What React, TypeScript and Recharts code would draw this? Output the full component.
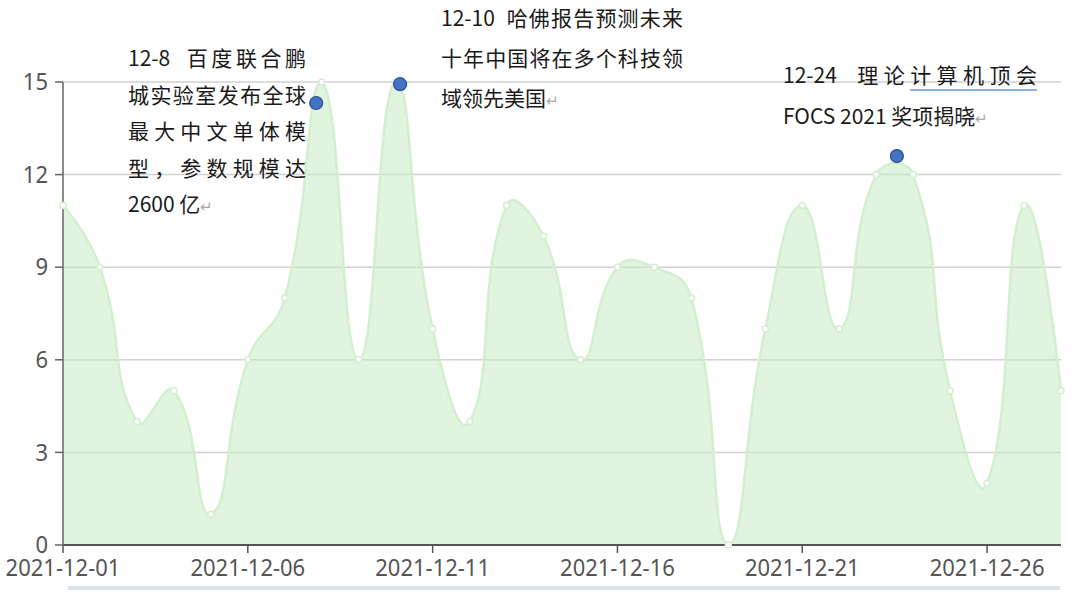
import React from 'react';
import { ComposedChart, Area, Scatter, XAxis, YAxis, CartesianGrid } from 'recharts';

const dates = [
  '2021-12-01', '2021-12-02', '2021-12-03', '2021-12-04', '2021-12-05', '2021-12-06', '2021-12-07',
  '2021-12-08', '2021-12-09', '2021-12-10', '2021-12-11', '2021-12-12', '2021-12-13', '2021-12-14',
  '2021-12-15', '2021-12-16', '2021-12-17', '2021-12-18', '2021-12-19', '2021-12-20', '2021-12-21',
  '2021-12-22', '2021-12-23', '2021-12-24', '2021-12-25', '2021-12-26', '2021-12-27', '2021-12-28',
];
const values = [11, 9, 4, 5, 1, 6, 8, 15, 6, 15, 7, 4, 11, 10, 6, 9, 9, 8, 0, 7, 11, 7, 12, 12, 5, 2, 11, 5];
const xTicks = [0, 5, 10, 15, 20, 25];
const yTicks = [0, 3, 6, 9, 12, 15];

// event markers (day index, value)
const markerDays = [6.85, 9.12, 22.56];
const markerValues = [14.32, 14.93, 12.6];

const chartData = values.map((v, i) => ({ day: i, value: v }));
const markerData = markerDays.map((d, i) => ({ day: d, value: markerValues[i] }));

// echarts-like smoothing: bezier control points from neighbours, clamped to the points' bounding box
function smoothCurve(smooth: number) {
  return function (context: any) {
    let pts: number[][] = [];
    let line = NaN;
    return {
      areaStart() { line = 0; },
      areaEnd() { line = NaN; },
      lineStart() { pts = []; },
      point(x: number, y: number) { pts.push([+x, +y]); },
      lineEnd() {
        const n = pts.length;
        if (n) {
          if (line) context.lineTo(pts[0][0], pts[0][1]);
          else context.moveTo(pts[0][0], pts[0][1]);
        }
        if (n > 1) {
          let minX = Infinity, minY = Infinity, maxX = -Infinity, maxY = -Infinity;
          pts.forEach(([x, y]) => {
            minX = Math.min(minX, x); maxX = Math.max(maxX, x);
            minY = Math.min(minY, y); maxY = Math.max(maxY, y);
          });
          const clamp = (p: number[]) => [
            Math.min(Math.max(p[0], minX), maxX),
            Math.min(Math.max(p[1], minY), maxY),
          ];
          const cpIn: number[][] = [];
          const cpOut: number[][] = [];
          for (let i = 0; i < n; i++) {
            const p = pts[i];
            if (i === 0 || i === n - 1) { cpIn.push(p); cpOut.push(p); continue; }
            const prev = pts[i - 1];
            const next = pts[i + 1];
            const vx = (next[0] - prev[0]) * smooth;
            const vy = (next[1] - prev[1]) * smooth;
            let d0 = Math.hypot(p[0] - prev[0], p[1] - prev[1]);
            let d1 = Math.hypot(p[0] - next[0], p[1] - next[1]);
            const sum = d0 + d1;
            if (sum !== 0) { d0 /= sum; d1 /= sum; }
            cpIn.push(clamp([p[0] - vx * d0, p[1] - vy * d0]));
            cpOut.push(clamp([p[0] + vx * d1, p[1] + vy * d1]));
          }
          for (let i = 1; i < n; i++) {
            const a = cpOut[i - 1];
            const b = cpIn[i];
            context.bezierCurveTo(a[0], a[1], b[0], b[1], pts[i][0], pts[i][1]);
          }
        }
        if (line || (line !== 0 && n === 1)) context.closePath();
        line = 1 - line;
      },
    };
  };
}

const curve = smoothCurve(0.5);

const XTick = (props: any) => {
  const { x, y, payload } = props;
  return (
    <text transform={`translate(${x},${y}) scale(1,1.1)`} textAnchor="middle" dy="0.72em"
      fill="#555" fontSize={22} fontFamily="'Noto Sans', sans-serif">
      {dates[payload.value]}
    </text>
  );
};

const YTick = (props: any) => {
  const { x, y, payload } = props;
  return (
    <text transform={`translate(${x},${y}) scale(1,1.1)`} textAnchor="end" dy="0.34em"
      fill="#555" fontSize={22} fontFamily="'Noto Sans', sans-serif">
      {payload.value}
    </text>
  );
};

const noteFont: React.CSSProperties = {
  position: 'absolute',
  fontFamily: "'Noto Sans CJK SC', 'Noto Sans', sans-serif",
  fontSize: 21,
  color: '#1a1a1a',
  whiteSpace: 'nowrap',
};

const Ret = () => <span style={{ color: '#aaa', fontSize: 15 }}>↵</span>;

const Line = ({ children, justify }: { children: React.ReactNode; justify?: boolean }) => (
  <div style={justify ? { textAlign: 'justify', textAlignLast: 'justify' } : undefined}>{children}</div>
);

export default function App() {
  return (
    <div style={{ position: 'absolute', left: 0, top: 0, width: 1080, height: 601, background: '#fff', overflow: 'hidden' }}>
      <ComposedChart width={1080} height={601} data={chartData} margin={{ top: 82, right: 19, bottom: 0, left: 0 }}>
        <CartesianGrid vertical={false} stroke="#d2d2d2" strokeWidth={1.5} />
        <XAxis dataKey="day" type="number" domain={[0, 27]} ticks={xTicks} height={56}
          axisLine={{ stroke: '#555', strokeWidth: 2 }} tickLine={{ stroke: '#555', strokeWidth: 1.5 }}
          tickSize={8} tickMargin={6} tick={<XTick />} />
        <YAxis domain={[0, 15]} ticks={yTicks} width={63}
          axisLine={{ stroke: '#666', strokeWidth: 1.5 }} tickLine={{ stroke: '#666', strokeWidth: 1.5 }}
          tickSize={8} tickMargin={7} tick={<YTick />} />
        <Area dataKey="value" type={curve as any} stroke="#d4efcf" strokeWidth={2.5}
          fill="#c4e9c0" fillOpacity={0.5} isAnimationActive={false}
          dot={{ r: 3, fill: '#fff', stroke: '#d4efcf', strokeWidth: 1.5, fillOpacity: 1 }} activeDot={false} />
        <Scatter data={markerData} dataKey="value" isAnimationActive={false}
          shape={(p: any) => <circle cx={p.cx} cy={p.cy} r={6.5} fill="#4472c4" stroke="#2f528f" strokeWidth={1.2} />} />
      </ComposedChart>

      <div style={{ ...noteFont, left: 128, top: 39, width: 178, lineHeight: '36.5px' }}>
        <Line justify>12-8&nbsp; 百度联合鹏</Line>
        <Line justify>城实验室发布全球</Line>
        <Line justify>最大中文单体模</Line>
        <Line justify>型，参数规模达</Line>
        <Line>2600 亿<Ret /></Line>
      </div>

      <div style={{ ...noteFont, left: 441, top: -3, width: 242, lineHeight: '40px' }}>
        <Line justify>12-10&nbsp; 哈佛报告预测未来</Line>
        <Line justify>十年中国将在多个科技领</Line>
        <Line>域领先美国<Ret /></Line>
      </div>

      <div style={{ ...noteFont, left: 783, top: 54, width: 254, lineHeight: '41px' }}>
        <Line justify>
          12-24&nbsp; 理论<span style={{ borderBottom: '2px solid #8fb0e6' }}>计算机顶会</span>
        </Line>
        <Line>FOCS 2021 奖项揭晓<Ret /></Line>
      </div>

      <div style={{ position: 'absolute', left: 68, top: 586, width: 992, height: 4, background: '#dde1e8' }} />
    </div>
  );
}
